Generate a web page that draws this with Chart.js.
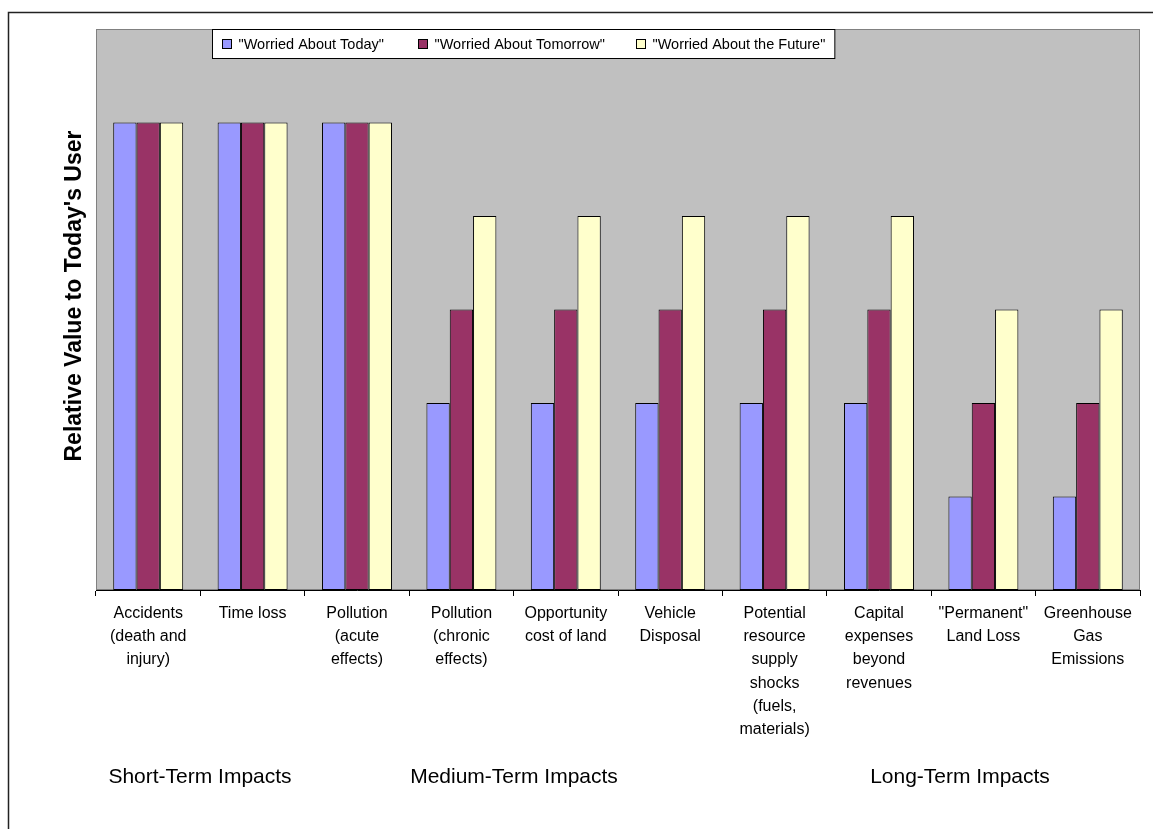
<!DOCTYPE html>
<html><head><meta charset="utf-8">
<script src="https://cdn.jsdelivr.net/npm/chart.js@4/dist/chart.umd.min.js"></script>
<style>html,body{margin:0;padding:0;background:#fff;overflow:hidden;} #wrap{position:relative;width:1153px;height:829px;}</style>
</head><body><div id="wrap"><canvas id="c" width="1153" height="829"></canvas></div>
<script>
const categories = [["Accidents","(death and","injury)"],["Time loss"],["Pollution","(acute","effects)"],["Pollution","(chronic","effects)"],["Opportunity","cost of land"],["Vehicle","Disposal"],["Potential","resource","supply","shocks","(fuels,","materials)"],["Capital","expenses","beyond","revenues"],["\"Permanent\"","Land Loss"],["Greenhouse","Gas","Emissions"]];
const seriesNames = ['"Worried About Today"','"Worried About Tomorrow"','"Worried About the Future"'];
const worriedToday = [5,5,5,2,2,2,2,2,1,1];
const worriedTomorrow = [5,5,5,3,3,3,3,3,2,2];
const worriedFuture = [5,5,5,4,4,4,4,4,3,3];
const groupLabels = ["Short-Term Impacts","Medium-Term Impacts","Long-Term Impacts"];
const yTitle = "Relative Value to Today's User";

const FONT = '"Liberation Sans", Arial, sans-serif';
const colors = ['#9999FF','#993366','#FFFFCC'];
const groupCenters = [200, 514, 960];
const legendSquareX = [222, 418, 636];

const decor = {
  id:'decor',
  beforeDraw(chart){
    const ctx = chart.ctx, a = chart.chartArea;
    ctx.save();
    ctx.fillStyle='#fff'; ctx.fillRect(0,0,chart.width,chart.height);
    // outer frame
    ctx.strokeStyle='#222'; ctx.lineWidth=1.5;
    ctx.beginPath(); ctx.moveTo(8.5,chart.height+2); ctx.lineTo(8.5,12.5); ctx.lineTo(chart.width+2,12.5); ctx.stroke();
    // plot area
    ctx.fillStyle='#C0C0C0'; ctx.fillRect(a.left,a.top,a.right-a.left,a.bottom-a.top);
    ctx.strokeStyle='#808080'; ctx.lineWidth=1;
    ctx.strokeRect(a.left+0.5,a.top+0.5,a.right-a.left-1,a.bottom-a.top-1);
    // legend
    ctx.font = '14.5px '+FONT;
    const ds = chart.data.datasets;
    const sq=9, gapT=7, pad=10;
    const lastW = ctx.measureText(ds[ds.length-1].label).width;
    const bx=212.5, by=a.top+0.5, bh=29;
    const bw = legendSquareX[ds.length-1] + sq + gapT + lastW + pad - bx;
    ctx.fillStyle='#fff'; ctx.fillRect(bx,by,bw,bh);
    ctx.strokeStyle='#000'; ctx.lineWidth=1; ctx.strokeRect(bx,by,bw,bh);
    const cy = by+bh/2;
    ds.forEach((d,i)=>{
      const x = legendSquareX[i]+0.5;
      ctx.fillStyle=d.backgroundColor; ctx.fillRect(x,cy-sq/2,sq,sq);
      ctx.strokeStyle='#000'; ctx.strokeRect(x,cy-sq/2,sq,sq);
      ctx.fillStyle='#000'; ctx.textBaseline='middle'; ctx.textAlign='left';
      ctx.fillText(d.label, x+sq+gapT, cy+1);
    });
    ctx.restore();
  },
  afterDraw(chart){
    const ctx = chart.ctx;
    ctx.save();
    ctx.font='21px '+FONT; ctx.fillStyle='#000'; ctx.textAlign='center'; ctx.textBaseline='middle';
    groupLabels.forEach((t,i)=>ctx.fillText(t, groupCenters[i], 777));
    // y axis title
    ctx.translate(75, 296); ctx.rotate(-Math.PI/2);
    ctx.font='bold 23px '+FONT; ctx.fillText(yTitle, 0, 0);
    ctx.restore();
  }
};

new Chart(document.getElementById('c'), {
  type:'bar',
  data:{
    labels: categories,
    datasets:[
      {label:seriesNames[0], data:worriedToday, backgroundColor:colors[0]},
      {label:seriesNames[1], data:worriedTomorrow, backgroundColor:colors[1]},
      {label:seriesNames[2], data:worriedFuture, backgroundColor:colors[2]}
    ].map(d=>Object.assign(d,{borderColor:'#000',borderWidth:1,borderSkipped:false,categoryPercentage:0.67,barPercentage:1.0}))
  },
  options:{
    responsive:false, animation:false, devicePixelRatio:1,
    layout:{padding:{top:29,right:13,left:0,bottom:0}},
    plugins:{legend:{display:false}, tooltip:{enabled:false}},
    scales:{
      x:{
        offset:true,
        grid:{display:true, drawOnChartArea:false, offset:true, tickLength:6, color:'#000', tickColor:'#000'},
        border:{display:true, color:'#000', width:1},
        ticks:{color:'#000', font:{family:FONT, size:16, lineHeight:1.45}, padding:6, maxRotation:0, autoSkip:false},
        afterFit(s){ s.height = 239; }
      },
      y:{
        min:0, max:6,
        ticks:{display:false},
        grid:{display:false},
        border:{display:false},
        title:{display:false, text:yTitle},
        afterFit(s){ s.width = 96; }
      }
    }
  },
  plugins:[decor]
});
</script>
</body></html>
